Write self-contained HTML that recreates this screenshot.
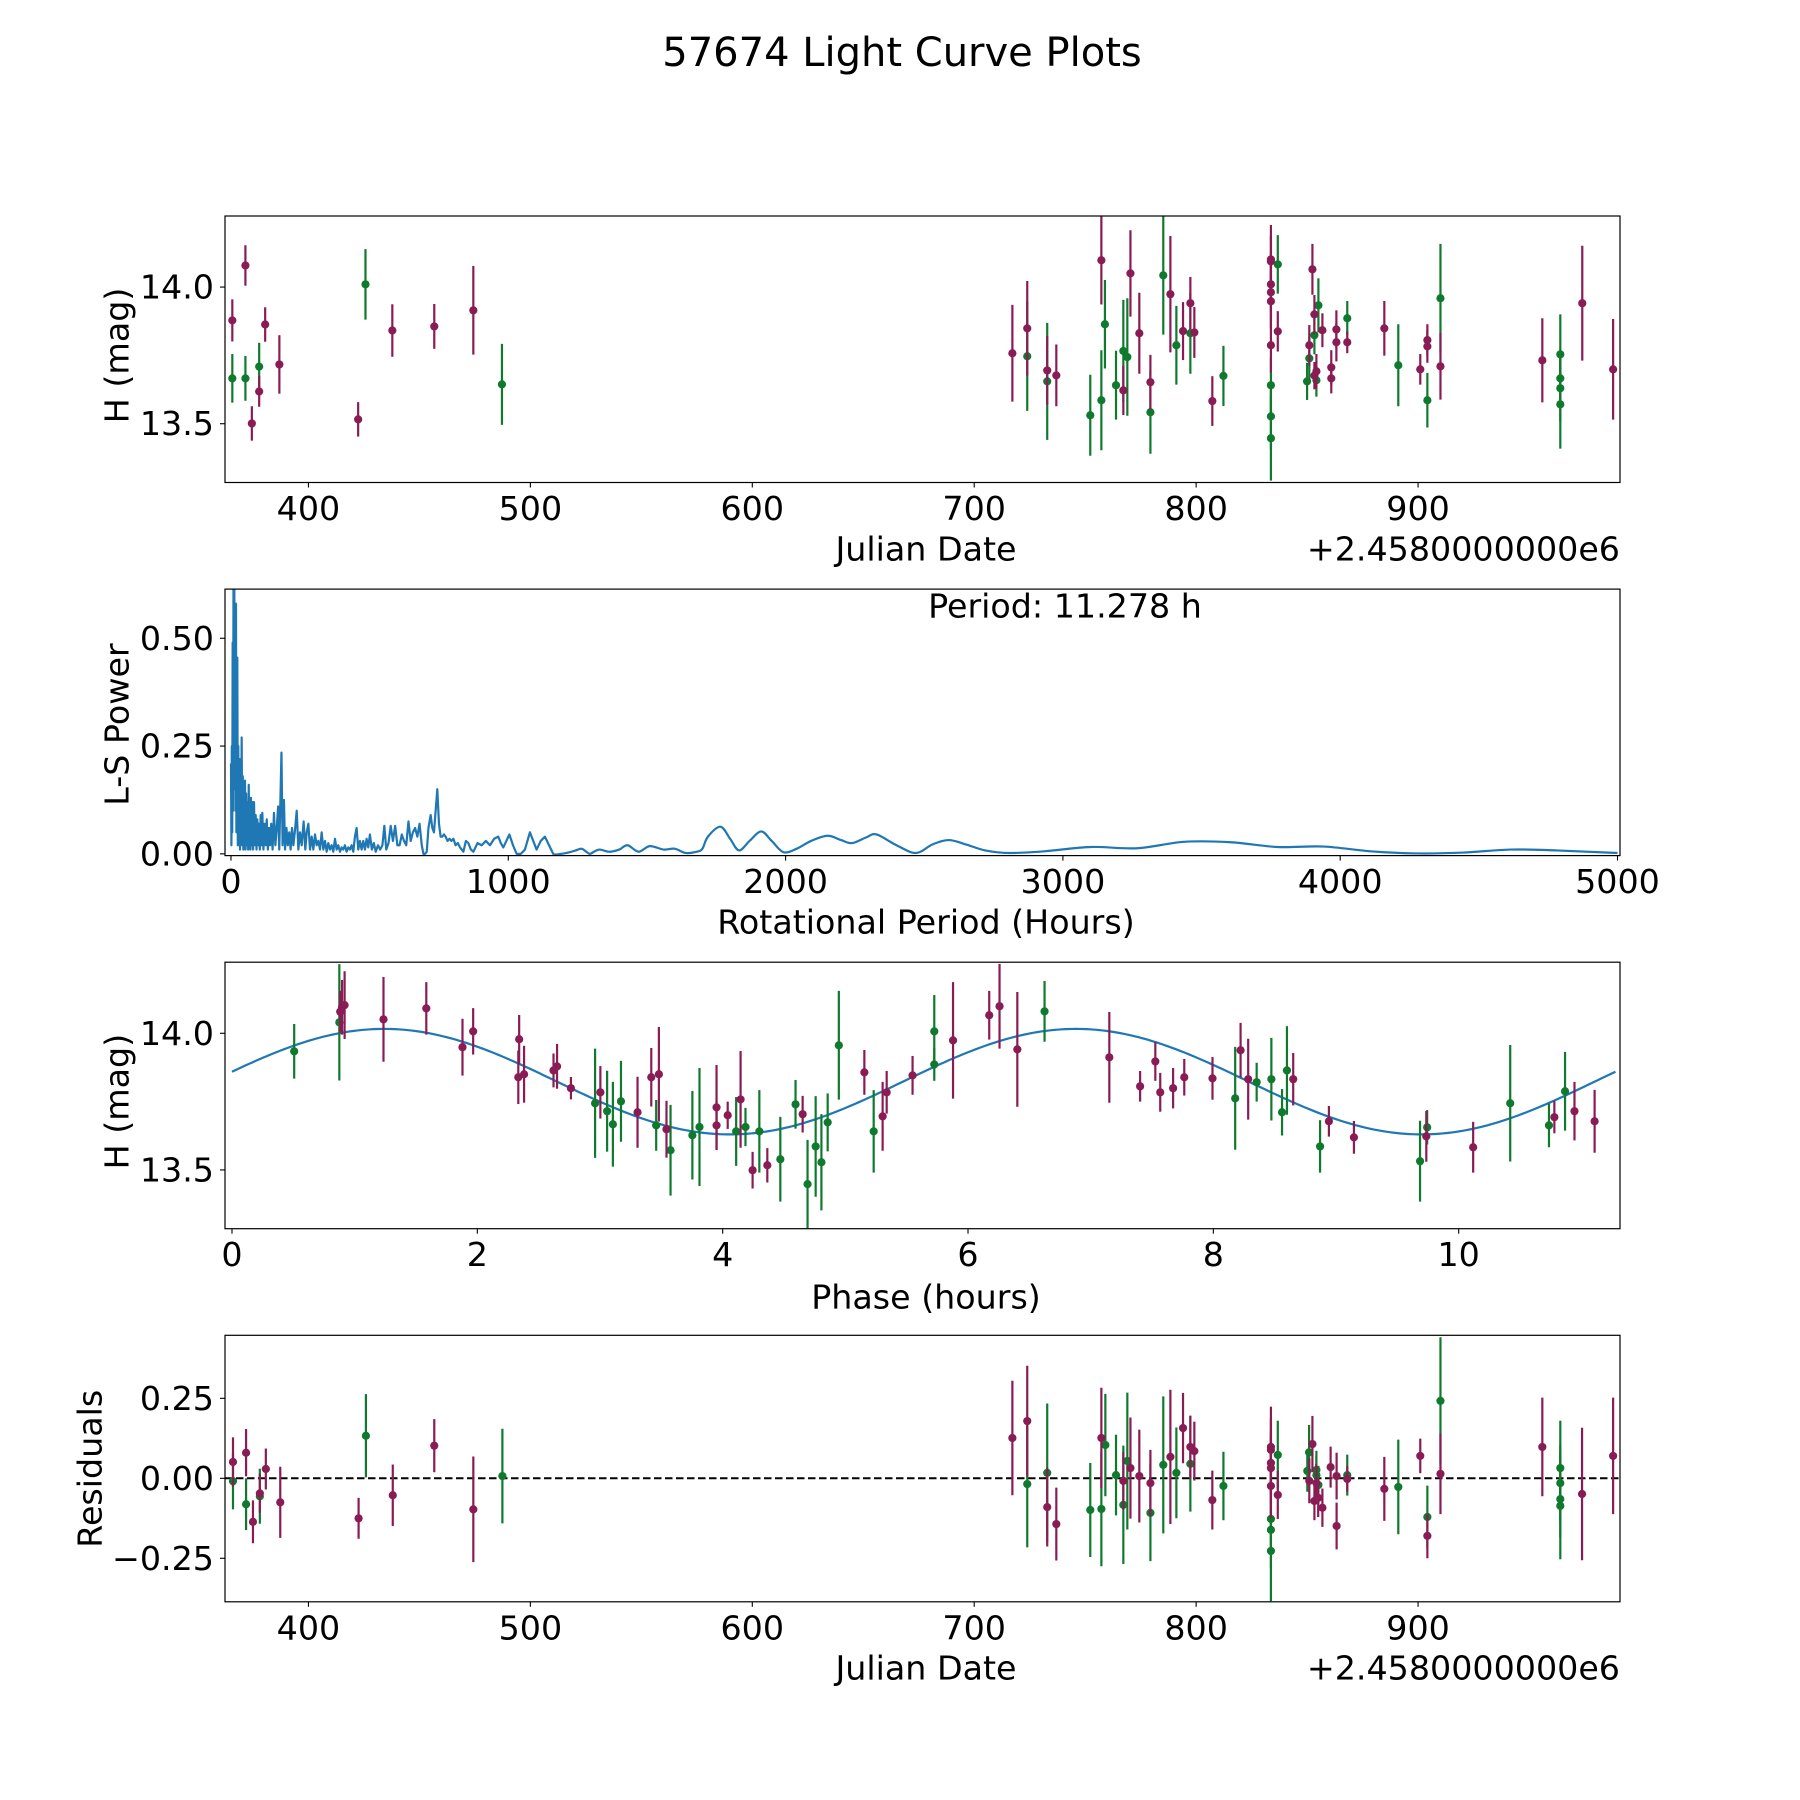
<!DOCTYPE html>
<html><head><meta charset="utf-8">
<style>
html,body{margin:0;padding:0;background:#fff;}
svg{display:block;font-family:"DejaVu Sans","Liberation Sans",sans-serif;}
</style></head>
<body>
<svg id="fig" width="1800" height="1800" viewBox="0 0 1800 1800" xmlns="http://www.w3.org/2000/svg">
<rect x="0" y="0" width="1800" height="1800" fill="#fff"/>
<text x="902" y="53" font-size="40" text-anchor="middle" dominant-baseline="central">57674 Light Curve Plots</text>
</svg>
<script>
// ---------- Panel 1: light curve (Julian Date offset +2458000) ----------
const lcGreenT   = [365.7,371.6,377.8,425.7,487.2, 723.9,732.9,752.3,757.3,758.9,763.9,767.2,769.0,779.4,785.2,791.1,797.4,812.3,833.7,833.7,833.7,836.8, 850.0,851.0,853.3,855.1,854.2,868.1,891.1,904.2,910.1,964.1,964.1,964.1,964.1];
const lcGreenMag = [13.666,13.666,13.709,14.010,13.644, 13.747,13.655,13.531,13.586,13.864,13.641,13.766,13.744,13.542,14.043,13.787,13.831,13.675,13.641,13.527,13.447,14.083, 13.655,13.739,13.824,13.933,13.659,13.886,13.714,13.586,13.959,13.754,13.666,13.630,13.571];
const lcGreenErr = [0.089,0.082,0.087,0.129,0.148, 0.2,0.214,0.148,0.183,0.162,0.126,0.187,0.215,0.152,0.217,0.144,0.148,0.11,0.1,0.12,0.155,0.107, 0.068,0.08,0.07,0.099,0.06,0.063,0.15,0.1,0.199,0.146,0.1,0.12,0.162];
const lcPurpleT   = [365.7,371.6,374.5,377.8,380.5,386.9,422.4,437.8,456.7,474.3, 717.2,723.9,732.9,737.0,757.3,767.2,770.4,774.4,779.4,788.4,794.1,797.4,799.2,807.3,833.7,833.7,833.7,833.7,833.7,833.7,836.8, 852.4,853.3,856.9,851.0,854.2,853.3,860.9,860.9,863.2,863.2,868.1,884.8,901.0,904.2,904.2,910.1,956.0,974.0,987.9];
const lcPurpleMag = [13.878,14.079,13.501,13.618,13.863,13.717,13.516,13.841,13.856,13.915, 13.758,13.849,13.695,13.677,14.098,13.622,14.050,13.831,13.652,13.974,13.839,13.941,13.834,13.583,14.101,14.094,14.010,13.981,13.948,13.787,13.838, 14.065,13.900,13.842,13.787,13.692,13.676,13.706,13.666,13.845,13.798,13.798,13.849,13.699,13.806,13.783,13.710,13.732,13.941,13.699];
const lcPurpleErr = [0.077,0.074,0.063,0.056,0.063,0.107,0.063,0.096,0.082,0.162, 0.177,0.173,0.126,0.113,0.162,0.09,0.158,0.148,0.1,0.213,0.106,0.096,0.093,0.091,0.126,0.093,0.1,0.1,0.1,0.1,0.074, 0.093,0.071,0.062,0.074,0.063,0.05,0.063,0.055,0.07,0.07,0.04,0.1,0.056,0.058,0.06,0.122,0.154,0.21,0.184];
const dateTicks = [400,500,600,700,800,900];
const magTicks = [13.5,14.0];
const magTickLabels = ["13.5","14.0"];

// ---------- Panel 2: Lomb-Scargle periodogram ----------
const lsPeriod = [
0,1.5,3,4.5,6,7.5,9,10.5,12,13.5,
15,16.5,18,19.5,21,22.8,24.6,26.4,28.5,30.5,
32.5,34.5,36.5,38.5,40.5,42.5,44.5,46.5,48.5,50.5,
52.5,54.5,57,59.5,62,64,66,68,70,72,
74.5,77,79.5,83,86,89,92,95,98,101,
104,107,110,113,117,121,125,129,133,137,
141,145,150,155,160,165,170,174,178,182,
186,191,195,200,205,210,215,220,225,230,
237,243,249,255,262,268,273,279,285,291,
297,303,309,315,321,327,333,339,345,351,
357,363,369,375,381,387,393,399,405,411,
417,423,429,435,441,447,453,459,465,471,
477,483,489,495,501,508,515,522,530,538,
546,553,560,568,576,584,592,600,608,616,
624,632,640,648,656,664,672,680,688,694,
700,706,712,720,726,732,738,744,750,756,
762,768,774,781,788,795,802,810,818,826,
838,847,856,865,874,889,904,919,934,949,
964,973,982,993,1004,1017,1030,1045,1060,1078,
1090,1102,1117,1132,1147,1162,1190,1222,1243,1264,
1279,1294,1312,1330,1365,1400,1430,1470,1510,1560,
1600,1640,1680,1700,1720,1765,1800,1832,1870,1912,
1950,1992,2040,2092,2151,2200,2240,2290,2328,2400,
2470,2530,2588,2650,2720,2806,2933,3100,3268,3437,
3605,3773,3941,4109,4277,4445,4613,4782,5000];
const lsPower = [
0.21,0.02,0.25,0.05,0.49,0.10,0.63,0.30,0.63,0.15,
0.45,0.10,0.58,0.05,0.30,0.455,0.02,0.25,0.04,0.22,
0.01,0.20,0.03,0.27,0.02,0.18,0.01,0.15,0.03,0.17,
0.01,0.14,0.02,0.12,0.01,0.16,0.02,0.10,0.01,0.13,
0.02,0.12,0.01,0.12,0.02,0.09,0.01,0.08,0.02,0.07,
0.01,0.09,0.02,0.095,0.01,0.07,0.02,0.08,0.01,0.06,
0.02,0.07,0.01,0.095,0.02,0.06,0.11,0.01,0.12,0.235,
0.02,0.125,0.01,0.06,0.02,0.05,0.01,0.06,0.02,0.05,
0.10,0.01,0.05,0.02,0.075,0.01,0.05,0.07,0.01,0.04,
0.01,0.045,0.02,0.03,0.01,0.05,0.01,0.03,0.005,0.025,
0.01,0.02,0.005,0.035,0.01,0.02,0.005,0.015,0.01,0.02,
0.005,0.015,0.01,0.02,0.005,0.04,0.06,0.01,0.03,0.01,
0.03,0.01,0.035,0.015,0.045,0.01,0.025,0.005,0.02,0.01,
0.02,0.065,0.01,0.025,0.065,0.03,0.065,0.02,0.02,0.045,
0.03,0.02,0.075,0.03,0.05,0.06,0.04,0.07,0.02,0.0,
0.0,0.005,0.06,0.09,0.06,0.05,0.10,0.15,0.07,0.04,
0.04,0.045,0.04,0.03,0.035,0.03,0.035,0.02,0.025,0.015,
0.005,0.03,0.025,0.01,0.005,0.025,0.02,0.03,0.02,0.035,
0.04,0.025,0.015,0.03,0.045,0.02,0.0,0.0,0.01,0.05,
0.03,0.01,0.03,0.04,0.02,0.0,0.0,0.004,0.008,0.012,
0.006,0.0,0.006,0.01,0.005,0.01,0.02,0.005,0.018,0.01,
0.012,0.002,0.005,0.012,0.04,0.063,0.035,0.008,0.03,0.052,
0.03,0.004,0.012,0.03,0.042,0.032,0.025,0.038,0.045,0.02,
0.002,0.022,0.032,0.022,0.008,0.002,0.006,0.016,0.013,0.028,
0.027,0.016,0.017,0.006,0.001,0.003,0.01,0.008,0.002];
const periodTicks = [0,1000,2000,3000,4000,5000];
const powerTicks = [0,0.25,0.5];
const powerTickLabels = ["0.00","0.25","0.50"];
const bestPeriodLabel = "Period: 11.278 h";

// ---------- Panel 3: phase-folded ----------
const phGreenX   = [0.507,0.875,2.960,3.058,3.105,3.171,3.458,3.575,3.753,3.811,4.110,4.186,4.299,4.470,4.594,4.692,4.758,4.805,4.856,4.947,5.231, 5.725,5.725,6.624,8.178,8.353,8.473,8.560,8.600,8.870,9.685,9.743,10.420,10.736,10.867];
const phGreenMag = [13.934,14.040,13.744,13.715,13.667,13.751,13.663,13.572,13.627,13.657,13.641,13.657,13.641,13.539,13.740,13.448,13.586,13.528,13.674,13.956,13.641, 14.007,13.886,14.080,13.762,13.821,13.832,13.711,13.864,13.586,13.532,13.656,13.744,13.663,13.788];
const phGreenErr = [0.1,0.213,0.2,0.148,0.155,0.148,0.093,0.166,0.162,0.216,0.126,0.07,0.151,0.155,0.089,0.162,0.184,0.176,0.106,0.199,0.151, 0.133,0.06,0.111,0.188,0.071,0.151,0.085,0.162,0.096,0.148,0.063,0.213,0.08,0.144];
const phPurpleX   = [0.882,0.897,0.918,1.235,1.584,1.879,1.966,2.341,2.334,2.381,2.621,2.650,2.763,3.003,3.306,3.418,3.480,3.542,3.950,3.950,4.041,4.146,4.244,4.364,4.652,5.155,5.304,5.337,5.548, 5.878,6.173,6.257,6.402,7.152,7.403,7.527,7.567,7.672,7.763,7.993,8.222,8.284,8.651,8.942,9.146,9.736,10.118,10.780,10.944,11.108];
const phPurpleMag = [14.079,14.095,14.103,14.051,14.091,13.949,14.007,13.978,13.839,13.850,13.864,13.879,13.799,13.784,13.711,13.839,13.850,13.649,13.729,13.663,13.700,13.758,13.499,13.517,13.704,13.857,13.696,13.784,13.846, 13.974,14.066,14.099,13.941,13.912,13.806,13.897,13.784,13.799,13.839,13.835,13.938,13.832,13.832,13.678,13.619,13.623,13.583,13.693,13.715,13.678];
const phPurpleErr = [0.076,0.1,0.124,0.155,0.096,0.104,0.085,0.089,0.098,0.104,0.062,0.082,0.041,0.096,0.13,0.107,0.173,0.104,0.155,0.09,0.05,0.177,0.067,0.063,0.067,0.082,0.126,0.078,0.071, 0.213,0.089,0.155,0.21,0.166,0.056,0.071,0.071,0.074,0.067,0.078,0.1,0.148,0.096,0.056,0.06,0.093,0.093,0.059,0.107,0.115];
const fitParams = [13.823, 0.193, 1.24, 5.639, 11.278]; // mean, amplitude, peak phase, cycle, fold period
const phaseTicks = [0,2,4,6,8,10];

// ---------- Panel 4: residuals ----------
const resGreenT = [366.0,371.9,378.1,425.9,487.4, 723.9,732.9,752.3,757.3,759.1,763.9,767.2,769.0,779.4,785.2,791.1,797.4,812.3,833.7,833.7,833.7,836.8, 850.9,850.1,854.2,854.2,855.1,868.1,891.1,904.2,910.1,964.1,964.1,964.1,964.1];
const resGreenR = [-0.009,-0.081,-0.056,0.133,0.007, -0.018,0.017,-0.099,-0.096,0.104,0.010,-0.083,0.054,-0.108,0.042,0.017,0.045,-0.024,-0.127,-0.161,-0.227,0.073, 0.081,0.023,0.026,0.010,-0.021,0.010,-0.027,-0.121,0.242,0.032,-0.015,-0.065,-0.086];
const resGreenE = [0.088,0.081,0.086,0.13,0.148, 0.198,0.217,0.147,0.179,0.16,0.126,0.185,0.214,0.151,0.214,0.142,0.149,0.107,0.1,0.12,0.157,0.107, 0.086,0.065,0.06,0.06,0.06,0.064,0.148,0.098,0.199,0.148,0.12,0.12,0.167];
const resPurpleT = [366.0,371.9,375.0,378.1,380.8,387.3,422.6,438.0,456.7,474.3, 717.2,723.9,732.9,737.0,757.3,767.2,770.4,774.4,779.4,788.4,794.1,797.4,799.2,807.3,833.7,833.7,833.7,833.7,833.7,836.8, 852.4,851.0,854.2,853.3,855.0,856.9,860.6,863.3,863.3,868.1,884.8,901.0,904.2,910.1,956.0,973.9,987.9];
const resPurpleR = [0.051,0.080,-0.136,-0.047,0.029,-0.075,-0.125,-0.053,0.102,-0.097, 0.126,0.179,-0.090,-0.143,0.126,-0.008,0.032,0.007,-0.015,0.067,0.157,0.098,0.085,-0.068,0.098,0.089,0.048,0.032,-0.024,-0.052, 0.107,-0.008,-0.015,-0.071,-0.061,-0.092,0.035,0.007,-0.149,-0.002,-0.033,0.070,-0.180,0.014,0.098,-0.049,0.070];
const resPurpleE = [0.077,0.074,0.067,0.061,0.064,0.111,0.064,0.096,0.083,0.165, 0.179,0.173,0.123,0.114,0.157,0.09,0.158,0.145,0.104,0.21,0.11,0.098,0.092,0.092,0.126,0.1,0.1,0.1,0.1,0.075, 0.088,0.07,0.06,0.06,0.06,0.06,0.064,0.073,0.073,0.04,0.1,0.054,0.07,0.126,0.154,0.207,0.182];
const resTicks = [-0.25,0,0.25];
const resTickLabels = ["\u22120.25","0.00","0.25"];

const NS = "http://www.w3.org/2000/svg";
const svg = document.getElementById("fig");
const GREEN = "#0f7a2e", PURPLE = "#8a1c55", BLUE = "#1f77b4";
const FS = 33.3;
const L = 225, R = 1620;

function mk(tag, attrs, parent) {
  const e = document.createElementNS(NS, tag);
  for (const k in attrs) e.setAttribute(k, attrs[k]);
  (parent || svg).appendChild(e);
  return e;
}
function scale(d0, d1, r0, r1) { return v => r0 + (v - d0) / (d1 - d0) * (r1 - r0); }

function makeAxes(id, top, bot, xd, yd) {
  const g = mk("g", {});
  
  
  const cp = mk("clipPath", {id: "clip-" + id}, g);
  mk("rect", {x: L, y: top, width: R - L, height: bot - top}, cp);
  const plot = mk("g", {"clip-path": "url(#clip-" + id + ")"}, g);
  
  
  return {g, plot, top, bot, x: scale(xd[0], xd[1], L, R), y: scale(yd[0], yd[1], bot, top)};
}
function frame(ax, id) {
  const f = mk("rect", {x: L, y: ax.top, width: R - L, height: ax.bot - ax.top, fill: "none", stroke: "#000", "stroke-width": 1.2}, ax.g);
  
  
}
function xTicks(ax, vals, labels, id) {
  vals.forEach((v, i) => {
    const px = ax.x(v);
    const t = mk("line", {x1: px, x2: px, y1: ax.bot, y2: ax.bot + 5, stroke: "#000", "stroke-width": 1.1}, ax.g);
    
    
    const tx = mk("text", {x: px, y: ax.bot + 26, "font-size": FS, "text-anchor": "middle", "dominant-baseline": "central"}, ax.g);
    tx.textContent = labels[i];
    
    
  });
}
function yTicks(ax, vals, labels, id) {
  vals.forEach((v, i) => {
    const py = ax.y(v);
    const t = mk("line", {x1: L - 5, x2: L, y1: py, y2: py, stroke: "#000", "stroke-width": 1.1}, ax.g);
    
    
    const tx = mk("text", {x: L - 11, y: py, "font-size": FS, "text-anchor": "end", "dominant-baseline": "central"}, ax.g);
    tx.textContent = labels[i];
    
    
  });
}
function label(txt, x, y, rot, name, anchor) {
  const t = mk("text", {x: x, y: y, "font-size": FS, "text-anchor": anchor || "middle", "dominant-baseline": "central"});
  if (rot) t.setAttribute("transform", "rotate(-90 " + x + " " + y + ")");
  t.textContent = txt;
  
  
}
function errSeries(ax, xs, ys, es, color, name) {
  const g = mk("g", {}, ax.plot);
  
  
  xs.forEach((xv, i) => {
    const px = ax.x(xv);
    const ln = mk("line", {x1: px, x2: px, y1: ax.y(ys[i] - es[i]), y2: ax.y(ys[i] + es[i]), stroke: color, "stroke-width": 2.2}, g);
    
    
    const c = mk("circle", {cx: px, cy: ax.y(ys[i]), r: 4.1, fill: color}, g);
    
    
  });
}

const dateLabels = dateTicks.map(String);

// Panel 1
const ax1 = makeAxes("light-curve", 216, 482.5, [362.4, 991.0], [13.285, 14.26]);
errSeries(ax1, lcGreenT, lcGreenMag, lcGreenErr, GREEN, "light-curve-green");
errSeries(ax1, lcPurpleT, lcPurpleMag, lcPurpleErr, PURPLE, "light-curve-purple");
frame(ax1, "light-curve");
xTicks(ax1, dateTicks, dateLabels, "light-curve");
yTicks(ax1, magTicks, magTickLabels, "light-curve");
label("Julian Date", 926, 549, false, "light-curve-x-axis-title");
label("+2.4580000000e6", R, 549, false, "light-curve-offset-text", "end");
label("H (mag)", 117, ax1.y(13.75), true, "light-curve-y-axis-title");

// Panel 2
const ax2 = makeAxes("periodogram", 589.1, 855.6, [-21.6, 5009], [-0.004, 0.614]);
const pts = lsPeriod.map((p, i) => [ax2.x(p), ax2.y(lsPower[i])]);
let d = "M" + pts[0][0].toFixed(2) + " " + pts[0][1].toFixed(2);
for (let i = 1; i < pts.length; i++) {
  if (lsPeriod[i - 1] < 1160 || i === pts.length - 1 || i < 2) {
    d += "L" + pts[i][0].toFixed(2) + " " + pts[i][1].toFixed(2);
  } else {
    const p0 = pts[i - 2], p1 = pts[i - 1], p2 = pts[i], p3 = pts[i + 1];
    const c1x = p1[0] + (p2[0] - p0[0]) / 6, c1y = p1[1] + (p2[1] - p0[1]) / 6;
    const c2x = p2[0] - (p3[0] - p1[0]) / 6, c2y = p2[1] - (p3[1] - p1[1]) / 6;
    d += "C" + c1x.toFixed(2) + " " + c1y.toFixed(2) + " " + c2x.toFixed(2) + " " + c2y.toFixed(2) + " " + p2[0].toFixed(2) + " " + p2[1].toFixed(2);
  }
}
const pl = mk("path", {d: d, fill: "none", stroke: BLUE, "stroke-width": 2.2, "stroke-linejoin": "round"}, ax2.plot);


frame(ax2, "periodogram");
xTicks(ax2, periodTicks, periodTicks.map(String), "periodogram");
yTicks(ax2, powerTicks, powerTickLabels, "periodogram");
label("Rotational Period (Hours)", 926, 922, false, "periodogram-x-axis-title");
label("L-S Power", 117, ax2.y(0.3), true, "periodogram-y-axis-title");
const pt = mk("text", {x: 1065, y: 606, "font-size": FS, "text-anchor": "middle", "dominant-baseline": "central"});
pt.textContent = bestPeriodLabel;



// Panel 3
const ax3 = makeAxes("phase-fold", 962.2, 1228.7, [-0.057, 11.315], [13.285, 14.26]);
let fd = "";
for (let k = 0; k <= 400; k++) {
  const ph = fitParams[4] * k / 400;
  const m = fitParams[0] + fitParams[1] * Math.cos(2 * Math.PI * (ph - fitParams[2]) / fitParams[3]);
  fd += (k ? "L" : "M") + ax3.x(ph).toFixed(2) + " " + ax3.y(m).toFixed(2);
}
const fit = mk("path", {d: fd, fill: "none", stroke: BLUE, "stroke-width": 2.2}, ax3.plot);


errSeries(ax3, phGreenX, phGreenMag, phGreenErr, GREEN, "phase-green");
errSeries(ax3, phPurpleX, phPurpleMag, phPurpleErr, PURPLE, "phase-purple");
frame(ax3, "phase-fold");
xTicks(ax3, phaseTicks, phaseTicks.map(String), "phase-fold");
yTicks(ax3, magTicks, magTickLabels, "phase-fold");
label("Phase (hours)", 926, 1297, false, "phase-x-axis-title");
label("H (mag)", 117, ax3.y(13.75), true, "phase-y-axis-title");

// Panel 4
const ax4 = makeAxes("residuals", 1335.3, 1601.8, [362.4, 991.0], [-0.386, 0.447]);
const zl = mk("line", {x1: L, x2: R, y1: ax4.y(0), y2: ax4.y(0), stroke: "#000", "stroke-width": 2, "stroke-dasharray": "7.5,3.5"}, ax4.plot);


errSeries(ax4, resGreenT, resGreenR, resGreenE, GREEN, "residual-green");
errSeries(ax4, resPurpleT, resPurpleR, resPurpleE, PURPLE, "residual-purple");
frame(ax4, "residuals");
xTicks(ax4, dateTicks, dateLabels, "residuals");
yTicks(ax4, resTicks, resTickLabels, "residuals");
label("Julian Date", 926, 1668, false, "residuals-x-axis-title");
label("+2.4580000000e6", R, 1668, false, "residuals-offset-text", "end");
label("Residuals", 90, ax4.y(0.03), true, "residuals-y-axis-title");
</script>
</body></html>
